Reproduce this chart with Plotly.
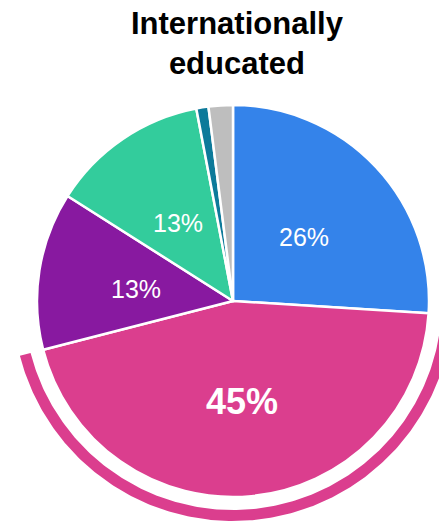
import numpy as np
import plotly.graph_objects as go

# Share of internationally educated respondents, by group (percent)
groups = ["Group A", "Group B", "Group C", "Group D", "Group E", "Group F"]
shares = [26, 45, 13, 13, 1, 2]
colors = ["#3483EA", "#DB3E8E", "#8819A0", "#33CC9C", "#0D7A9A", "#BEBEBE"]
title_text = "<b>Internationally<br>educated</b>"
highlight = 1          # slice drawn with the outer halo arc
min_label_share = 5    # slices smaller than this get no label

W, H = 439, 522
CX, CY = 233, 301      # pie centre, px from the top-left corner
R = 196                # pie radius, px
RING_IN, RING_OUT = 209, 220
LABEL_R, LABEL_DROP = 98, 3
FONT = "Liberation Sans, Arial, Helvetica, sans-serif"

total = float(sum(shares))
cum = np.concatenate([[0.0], np.cumsum(shares)]) / total * 360.0  # clockwise from 12 o'clock

fig = go.Figure()

# halo arc around the highlighted slice, on a 1 unit = 1 px cartesian frame
a0, a1 = np.radians(cum[highlight]), np.radians(cum[highlight + 1])
t = np.linspace(a0, a1, 240)
ring_x = np.concatenate([RING_OUT * np.sin(t), RING_IN * np.sin(t[::-1])])
ring_y = np.concatenate([RING_OUT * np.cos(t), RING_IN * np.cos(t[::-1])])
fig.add_trace(go.Scatter(
    x=ring_x, y=ring_y, mode="lines", fill="toself",
    fillcolor=colors[highlight], line=dict(width=0, color=colors[highlight]),
    hoverinfo="skip", showlegend=False,
))

fig.add_trace(go.Pie(
    values=shares, labels=groups, sort=False, direction="clockwise", rotation=0,
    marker=dict(colors=colors, line=dict(color="white", width=2.5)),
    textinfo="none", hoverinfo="label+percent", showlegend=False,
    domain=dict(x=[(CX - R) / W, (CX + R) / W],
                y=[(H - CY - R) / H, (H - CY + R) / H]),
))

# percentage labels inside the larger slices
annotations = []
for i, s in enumerate(shares):
    if s < min_label_share:
        continue
    mid = np.radians((cum[i] + cum[i + 1]) / 2)
    txt = f"<b>{s}%</b>" if i == highlight else f"{s}%"
    annotations.append(dict(
        x=LABEL_R * np.sin(mid), y=LABEL_R * np.cos(mid) - LABEL_DROP,
        xref="x", yref="y",
        text=txt, showarrow=False, xanchor="center", yanchor="middle",
        font=dict(family=FONT, size=36 if i == highlight else 25, color="white"),
    ))

annotations.append(dict(
    x=237 - CX, y=CY - 43, xref="x", yref="y", text=title_text, showarrow=False,
    xanchor="center", yanchor="middle",
    font=dict(family=FONT, size=31, color="black"),
))

fig.update_layout(
    width=W, height=H, margin=dict(l=0, r=0, t=0, b=0),
    paper_bgcolor="white", plot_bgcolor="white",
    xaxis=dict(range=[-CX, W - CX], visible=False, fixedrange=True),
    yaxis=dict(range=[CY - H, CY], visible=False, fixedrange=True),
    annotations=annotations, showlegend=False,
)

fig.write_html("out.html")
